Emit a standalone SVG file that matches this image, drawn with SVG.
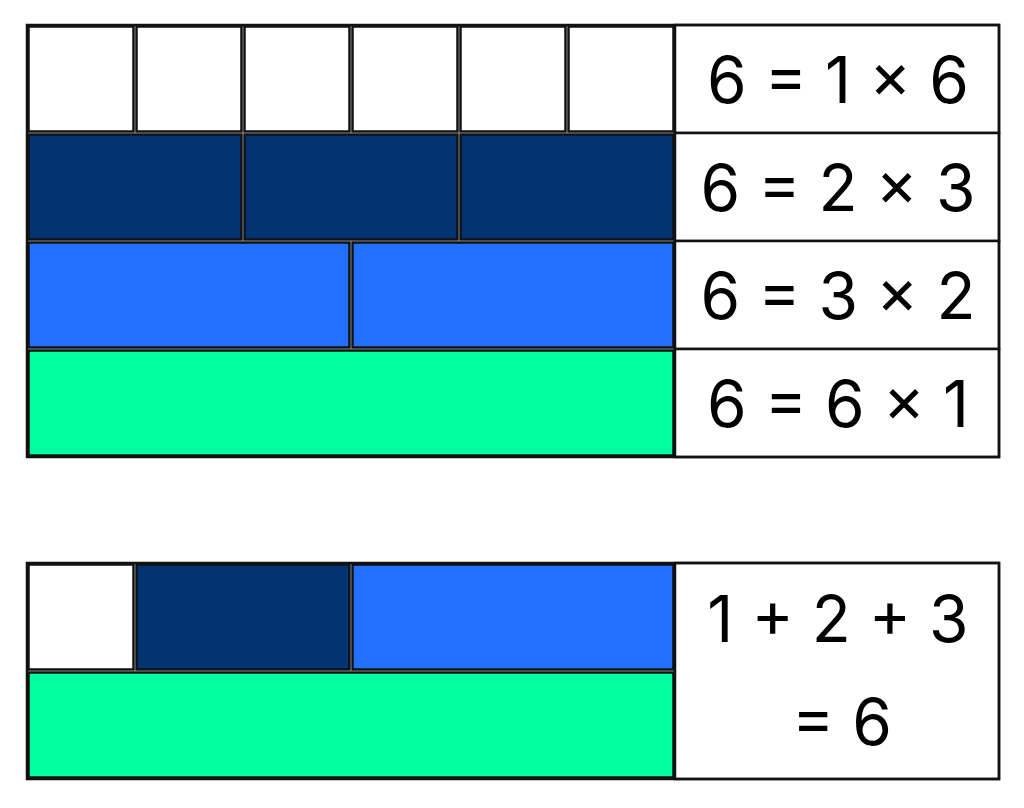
<svg xmlns="http://www.w3.org/2000/svg" width="1024" height="808" viewBox="0 0 1024 808">
<style>
.c{stroke:#111;stroke-width:2.5}
.w{fill:#ffffff}
.n{fill:#023472}
.b{fill:#2170FF}
.g{fill:#00FF9F}
.frame{fill:none;stroke:#111;stroke-width:2.5}
.t{font-family:Inter,"Liberation Sans",sans-serif;font-size:64px;fill:#000;text-anchor:middle}
</style>
<rect width="1024" height="808" fill="#fff"/>
<g id="row1">
<rect class="c w" x="28.5" y="26.5" width="105" height="105"/>
<rect class="c w" x="136.5" y="26.5" width="105" height="105"/>
<rect class="c w" x="244.5" y="26.5" width="105" height="105"/>
<rect class="c w" x="352.5" y="26.5" width="105" height="105"/>
<rect class="c w" x="460.5" y="26.5" width="105" height="105"/>
<rect class="c w" x="568.5" y="26.5" width="105" height="105"/>
<rect class="c w" x="675" y="25" width="324" height="108"/>
<text class="t" x="838" y="103">6 = 1 × 6</text>
</g>
<g id="row2">
<rect class="c n" x="28.5" y="134.5" width="213" height="105"/>
<rect class="c n" x="244.5" y="134.5" width="213" height="105"/>
<rect class="c n" x="460.5" y="134.5" width="213" height="105"/>
<rect class="c w" x="675" y="133" width="324" height="108"/>
<text class="t" x="838" y="211">6 = 2 × 3</text>
</g>
<g id="row3">
<rect class="c b" x="28.5" y="242.5" width="321" height="105"/>
<rect class="c b" x="352.5" y="242.5" width="321" height="105"/>
<rect class="c w" x="675" y="241" width="324" height="108"/>
<text class="t" x="838" y="319">6 = 3 × 2</text>
</g>
<g id="row4">
<rect class="c g" x="28.5" y="350.5" width="645" height="105"/>
<rect class="c w" x="675" y="349" width="324" height="108"/>
<text class="t" x="838" y="427">6 = 6 × 1</text>
</g>
<rect class="frame" x="27" y="25" width="972" height="432"/>
<g id="sum">
<rect class="c w" x="28.5" y="564.5" width="105" height="105"/>
<rect class="c n" x="136.5" y="564.5" width="213" height="105"/>
<rect class="c b" x="352.5" y="564.5" width="321" height="105"/>
<rect class="c g" x="28.5" y="672.5" width="645" height="105"/>
<rect class="c w" x="675" y="563" width="324" height="216"/>
<text class="t" x="838" y="642">1 + 2 + 3</text>
<text class="t" x="842" y="745">= 6</text>
</g>
<rect class="frame" x="27" y="563" width="972" height="216"/>
</svg>
